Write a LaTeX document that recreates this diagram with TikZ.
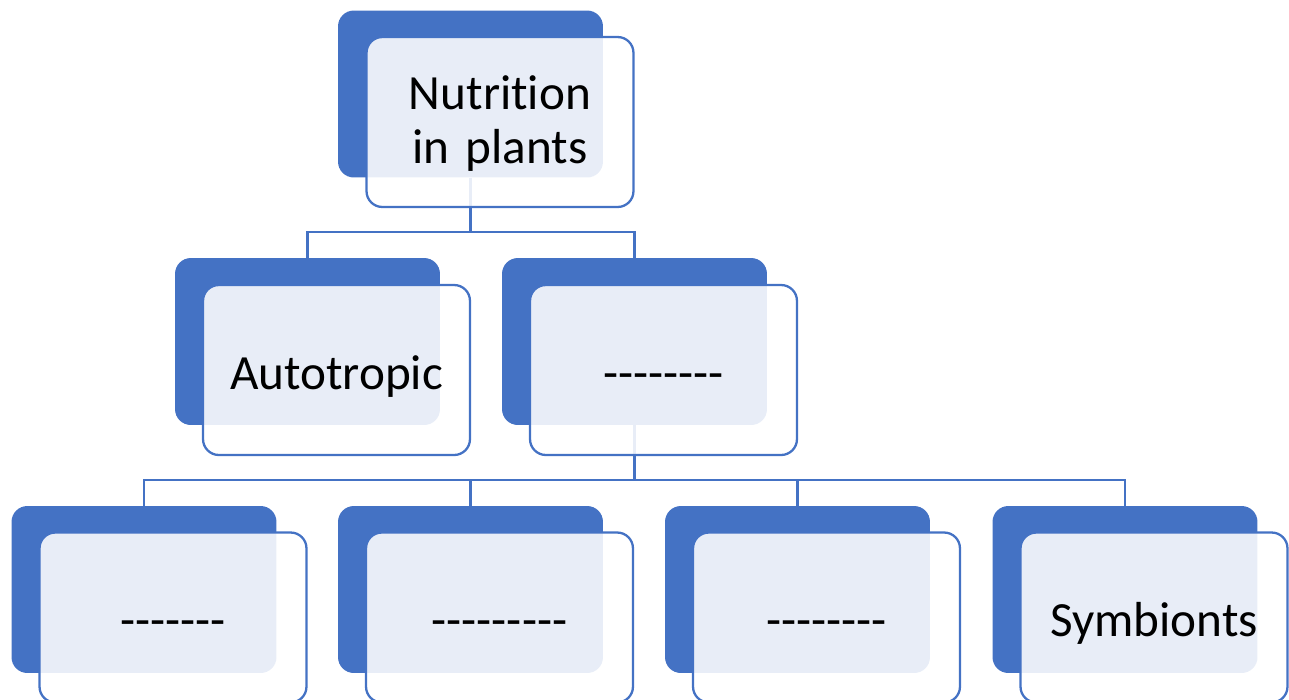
\documentclass[tikz,border=0pt]{standalone}
\usepackage{fontspec}
\newfontfamily\cardfont{Carlito}[Ligatures=NoCommon]
\usepackage{tikz}
\usetikzlibrary{positioning, backgrounds}
\definecolor{cardblue}{RGB}{68,114,196}

\begin{document}
\begin{tikzpicture}[
  x=0.02cm,y=-0.02cm,
  back/.style={
    rectangle, rounded corners=9pt, fill=cardblue, draw=none,
    minimum width=5.3cm, minimum height=3.34cm
  },
  front/.style={
    rectangle, rounded corners=9pt, line width=1.3pt,
    draw=cardblue, fill=white, fill opacity=0.88, text opacity=1,
    minimum width=5.34cm, minimum height=3.4cm,
    text width=5cm, align=center,
    font=\cardfont\fontsize{28}{31}\selectfont
  },
  oneline/.style={front, text height=29pt, text depth=7pt},
  link/.style={line width=1.2pt, draw=cardblue}
]
\useasboundingbox (0,0) rectangle (1289,700);

% ---- back cards (fixed positions) ----
\node[back] (nutrition) at (470.5, 94)    {};
\node[back] (autotropic) at (307.5, 341.5) {};
\node[back] (hetero)     at (634.5, 341.5) {};
\node[back] (sub1)       at (144,   589.5) {};
\node[back] (sub2)       at (470.5, 589.5) {};
\node[back] (sub3)       at (797.5, 589.5) {};
\node[back] (symbionts)  at (1125,  589.5) {};

% ---- front cards with text ----
\node[front, text depth=34pt] (nutritionF) at (500, 122) {Nutrition\\in plants};
\node[oneline] (autotropicF) at (336.5, 370)   {Autotropic};
\node[oneline] (heteroF)     at (663.5, 370)   {--------};
\node[oneline] (sub1F)       at (173,   617.5) {-------};
\node[oneline] (sub2F)       at (499.5, 617.5) {---------};
\node[oneline] (sub3F)       at (826.5, 617.5) {--------};
\node[oneline] (symbiontsF)  at (1154,  617.5) {Symbionts};

% ---- connectors (behind the cards) ----
\begin{scope}[on background layer]
\draw[link] (nutrition.south) -- ++(0,54) -| (autotropic.north);
\draw[link] (nutrition.south) -- ++(0,54) -| (hetero.north);

\draw[link] (hetero.south) -- ++(0,55) -| (sub1.north);
\draw[link] (hetero.south) -- ++(0,55) -| (sub2.north);
\draw[link] (hetero.south) -- ++(0,55) -| (sub3.north);
\draw[link] (hetero.south) -- ++(0,55) -| (symbionts.north);
\end{scope}

\end{tikzpicture}
\end{document}
